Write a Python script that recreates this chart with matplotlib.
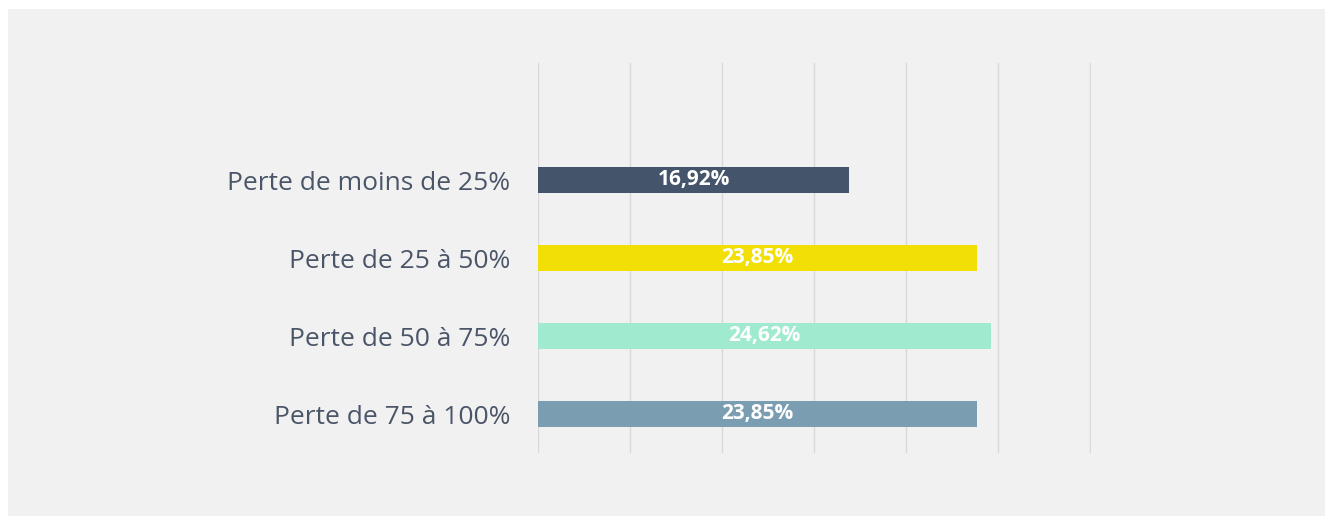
import matplotlib.pyplot as plt
from matplotlib.patches import Rectangle

categories = ['Perte de moins de 25%', 'Perte de 25 à 50%', 'Perte de 50 à 75%', 'Perte de 75 à 100%']
values = [16.92, 23.85, 24.62, 23.85]
labels = ['16,92%', '23,85%', '24,62%', '23,85%']
colors = ['#44546a', '#f2df05', '#a0ebd0', '#7a9db2']

fig = plt.figure(figsize=(13.25, 5.16), dpi=100)
fig.patch.set_facecolor('white')
# light grey panel behind the chart
fig.patches.append(Rectangle((8 / 1325, 0), 1, 1 - 9 / 516, transform=fig.transFigure,
                             facecolor='#f1f1f1', edgecolor='none', zorder=-5))

ax = fig.add_axes([538 / 1325, 1 - 453 / 516, 553 / 1325, 390 / 516])
ax.set_facecolor('none')

y = list(range(len(categories)))
ax.barh(y, values, height=0.33, color=colors, zorder=3)
for yi, v, lab in zip(y, values, labels):
    ax.text(v / 2, yi, lab, ha='center', va='center', color='white',
            fontsize=15, fontweight='bold', family='Open Sans', zorder=4)

ax.set_xlim(0, 30.05)
ax.set_ylim(3.5, -1.5)
ax.set_xticks(range(0, 31, 5))
ax.xaxis.grid(True, color='#d9d9d9', linewidth=1)
ax.set_axisbelow(True)
ax.set_yticks(y)
ax.set_yticklabels(categories, fontsize=19, color='#4a5568', family='Open Sans')
ax.tick_params(axis='y', length=0, pad=20)
ax.tick_params(axis='x', length=0, labelbottom=False)
for s in ax.spines.values():
    s.set_visible(False)

fig.savefig('out.png', dpi=100, facecolor=fig.get_facecolor())
